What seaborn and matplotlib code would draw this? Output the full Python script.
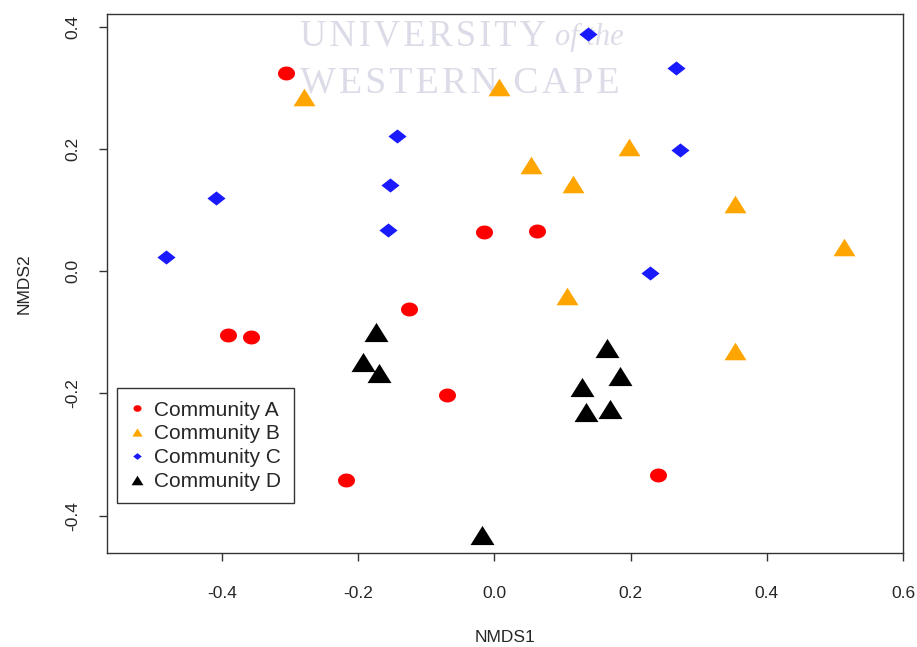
import numpy as np
import pandas as pd
import matplotlib
matplotlib.use("Agg")
import matplotlib.pyplot as plt
import seaborn as sns
from matplotlib.lines import Line2D
from matplotlib.path import Path

# ---- data ----
a_x = [-0.306, -0.391, -0.357, -0.016, 0.062, -0.126, -0.069, -0.218, 0.240]
a_y = [0.325, -0.105, -0.107, 0.064, 0.066, -0.061, -0.202, -0.341, -0.333]

b_x = [-0.279, 0.007, 0.053, 0.115, 0.197, 0.353, 0.513, 0.106, 0.353]
b_y = [0.285, 0.302, 0.174, 0.143, 0.203, 0.110, 0.039, -0.041, -0.131]

c_x = [0.137, 0.266, -0.143, 0.272, -0.409, -0.153, -0.157, -0.482, 0.229]
c_y = [0.389, 0.333, 0.221, 0.198, 0.120, 0.141, 0.067, 0.023, -0.003]

d_x = [-0.174, -0.193, -0.169, 0.165, 0.185, 0.128, 0.135, 0.169, -0.019]
d_y = [-0.100, -0.149, -0.167, -0.126, -0.172, -0.189, -0.231, -0.226, -0.431]

grupos = ["Community A", "Community B", "Community C", "Community D"]

df = pd.DataFrame({
    "NMDS1": a_x + b_x + c_x + d_x,
    "NMDS2": a_y + b_y + c_y + d_y,
    "grupo": sum([[g] * 9 for g in grupos], []),
})

# marcadores um pouco achatados, como na imagem original
t = np.linspace(0, 2 * np.pi, 41)
elipse = Path(np.c_[np.cos(t), 0.82 * np.sin(t)], closed=True)
triangulo = Path([(0, 0.8), (-1, -0.8), (1, -0.8), (0, 0.8)], closed=True)
losango = Path([(-1, 0), (0, 0.78), (1, 0), (0, -0.78), (-1, 0)], closed=True)

cores = {"Community A": "#ff0000", "Community B": "#ffa500",
         "Community C": "#1a1aff", "Community D": "#000000"}
marcadores = {"Community A": elipse, "Community B": triangulo,
              "Community C": losango, "Community D": triangulo}
tamanhos = {"Community A": 150, "Community B": 250,
            "Community C": 170, "Community D": 298}
tam_legenda = {"Community A": 5.8, "Community B": 7.4,
               "Community C": 6.2, "Community D": 8.6}

sns.set_style("white")
plt.rcParams["font.family"] = ["Liberation Sans", "DejaVu Sans"]

fig = plt.figure(figsize=(9.17, 6.47), dpi=100)
ax = fig.add_axes([0.1167, 0.1453, 0.868, 0.8331])

# marca d'agua (letras espaçadas)
hair = "\u200a"
marca = dict(family=["Liberation Serif", "DejaVu Serif"], color="#dcdce8",
             zorder=0, ha="left", va="baseline")
ax.text(-0.285, 0.370, hair.join("UNIVERSITY"), fontsize=26.3, **marca)
ax.text(0.089, 0.370, "of the", fontsize=22, style="italic", **marca)
ax.text(-0.285, 0.293, hair.join("WESTERN CAPE"), fontsize=27.3, **marca)

for g in grupos:
    sub = df[df["grupo"] == g]
    sns.scatterplot(data=sub, x="NMDS1", y="NMDS2", ax=ax, color=cores[g],
                    marker=marcadores[g], s=tamanhos[g], linewidth=0, zorder=3)

ax.set_xlim(-0.569, 0.6)
ax.set_ylim(-0.461, 0.421)
ax.set_xticks([-0.4, -0.2, 0.0, 0.2, 0.4, 0.6])
ax.set_yticks([-0.4, -0.2, 0.0, 0.2, 0.4])
ax.set_xticklabels(["-0.4", "-0.2", "0.0", "0.2", "0.4", "0.6"])
ax.set_yticklabels(["-0.4", "-0.2", "0.0", "0.2", "0.4"])
ax.tick_params(axis="both", direction="out", length=6, width=1, color="#333333",
               labelsize=12.5, bottom=True, left=True)
ax.tick_params(axis="x", pad=17.5)
ax.tick_params(axis="y", pad=13.5)
for lab in ax.get_yticklabels():
    lab.set_rotation(90)
    lab.set_va("center")
ax.set_xlabel("NMDS1", fontsize=12.5, labelpad=21)
ax.set_ylabel("NMDS2", fontsize=12.5, labelpad=24)
for sp in ax.spines.values():
    sp.set_color("#333333")
    sp.set_linewidth(1)

handles = [Line2D([], [], linestyle="none", marker=marcadores[g], color=cores[g],
                  markersize=tam_legenda[g], markeredgewidth=0)
           for g in grupos]
leg = ax.legend(handles, grupos, loc="upper left", bbox_to_anchor=(0.0126, 0.306),
                fontsize=15, frameon=True, fancybox=False, framealpha=1,
                edgecolor="#333333", borderpad=0.6, labelspacing=0.23,
                handletextpad=0.48, handlelength=0.7, borderaxespad=0)
leg.get_frame().set_linewidth(1)

fig.savefig("out.png", dpi=100)
